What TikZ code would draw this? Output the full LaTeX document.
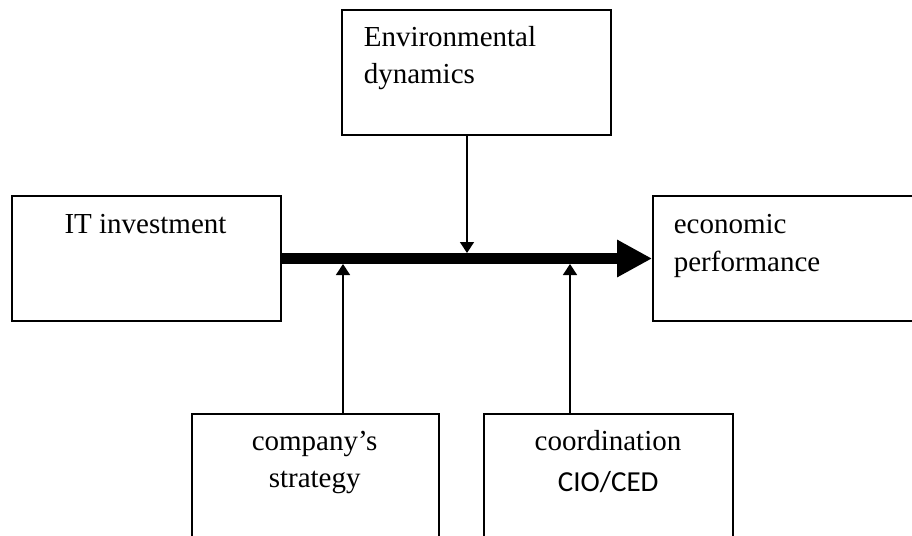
\documentclass[tikz,border=0pt]{standalone}
\usepackage{fontspec}
\setmainfont{Liberation Serif}
\newfontfamily\codefont{Carlito}
\usetikzlibrary{arrows.meta,positioning}

\tikzset{
  block/.style={draw, line width=1.7pt, rectangle, minimum height=125pt, inner sep=0pt},
  wide/.style={block, minimum width=269pt},
  narrow/.style={block, minimum width=248pt},
  txt/.style={inner sep=0pt, font=\fontsize{29}{36}\selectfont},
  flow/.style={line width=11pt, -{Triangle[length=35pt,width=35pt]}},
  effect/.style={line width=1.4pt, -{Triangle[length=11pt,width=14pt]}}
}

\begin{document}
\begin{tikzpicture}[x=1pt, y=-1pt]
    \useasboundingbox (0,0) rectangle (912,535);
    \clip (0,0) rectangle (912,535);
    % the five boxes
    \node[wide] (env) at (476.5,72.25) {};
    \node[wide] (itinv) at (146.3,258.5) {};
    \node[wide] (econ) at (787.5,258.5) {};
    \node[narrow, minimum width=247pt] (strat) at (315.5,476.5) {};
    \node[narrow, minimum width=249pt] (coord) at (608.5,476.5) {};
    % box texts
    \node[txt, anchor=base west] (envtop) at (363.6,46.7) {Environmental};
    \node[txt, anchor=base west] (envbot) at (363.6,83.6) {dynamics};
    \node[txt, anchor=base] (itlabel) at (145.5,233.7) {IT investment};
    \node[txt, anchor=base west] (econtop) at (673.6,233.7) {economic};
    \node[txt, anchor=base west] (econbot) at (673.6,271) {performance};
    \node[txt, anchor=base] (strattop) at (314.6,450.4) {company’s};
    \node[txt, anchor=base] (stratbot) at (314.7,487.9) {strategy};
    \node[txt, anchor=base] (coordtop) at (608,450.4) {coordination};
    \node[txt, anchor=base, font=\codefont\fontsize{29}{36}\selectfont] (coordbot) at (608.2,491.3) {CIO/CED};
    % main flow
    \draw[flow] (itinv.east) -- (econ.west);
    % where the influences meet the flow
    \coordinate (envhit) at (467,253);
    \coordinate (strathit) at (343,264);
    \coordinate (coordhit) at (570,264);
    \draw[effect] (env.south -| envhit) -- (envhit);
    \draw[effect] (strat.north -| strathit) -- (strathit);
    \draw[effect] (coord.north -| coordhit) -- (coordhit);
\end{tikzpicture}
\end{document}
